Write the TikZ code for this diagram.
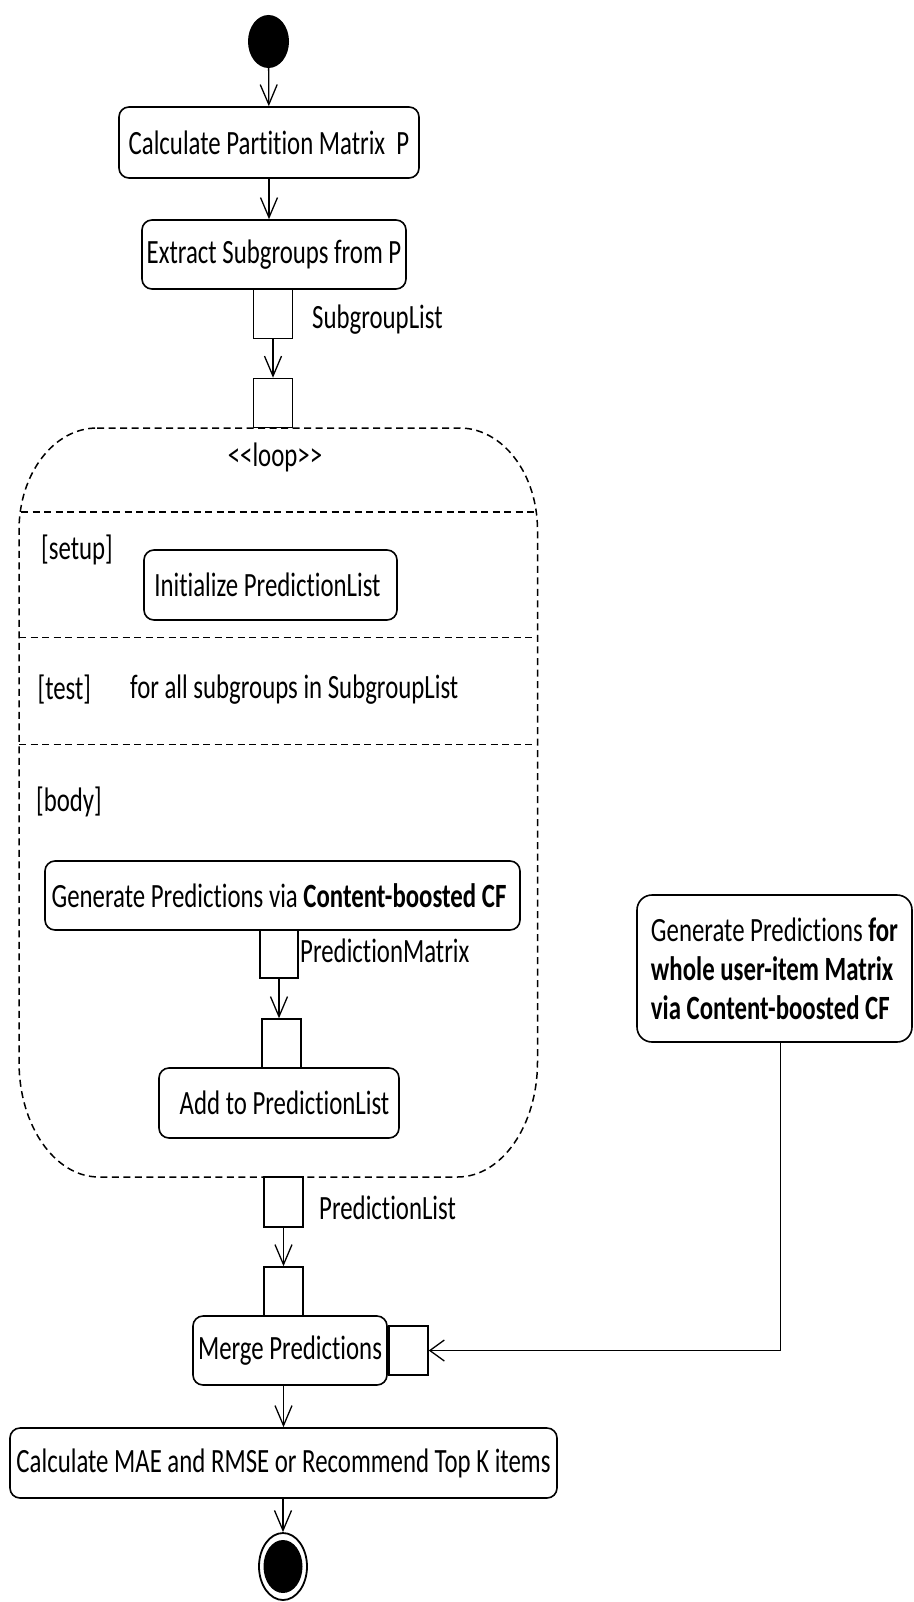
\documentclass[tikz,border=0pt]{standalone}
\usepackage{fontspec}
\setmainfont{Carlito}[FakeStretch=0.73, Ligatures={NoCommon}]
\usetikzlibrary{arrows.meta,shapes.geometric}
\begin{document}
\begin{tikzpicture}[x=1pt,y=-1pt,
  every node/.style={font=\fontsize{34}{39}\selectfont},
  action/.style={draw, line width=1.6pt, rounded corners=10pt, inner sep=0pt, align=center},
  objpin/.style={draw, line width=1.5pt, minimum width=39pt, minimum height=49pt, inner sep=0pt},
  lbl/.style={inner sep=0pt, anchor=west},
  arr/.style={line width=1.3pt, -{Straight Barb[length=20pt,width=17pt,line width=1.3pt]}},
  harr/.style={line width=1.3pt, -{Straight Barb[length=14.5pt,width=21pt,line width=1.3pt]}},
  loopline/.style={line width=1.5pt, dash pattern=on 7pt off 4.5pt}
]
\useasboundingbox (0,0) rectangle (913,1602);

% start
\node[ellipse, fill, minimum width=41pt, minimum height=53pt, inner sep=0pt] (start) at (268.5,41.5) {};

% actions
\node[action, minimum width=300pt, minimum height=71pt] (calc) at (269,142.5) {Calculate Partition Matrix~~P};
\node[action, minimum width=264pt, minimum height=69pt] (extract) at (274,254.5) {Extract Subgroups from P};
\node[objpin] (p1) at (273,314) {};
\node[lbl] (l1) at (312,320) {SubgroupList};
\node[objpin] (p2) at (273,403) {};

% loop region
\draw[loopline] (97,428) -- (459.5,428)
  .. controls (502.6,428) and (537.5,473.7) .. (537.5,530)
  -- (537.5,1062)
  .. controls (537.5,1125.5) and (501.7,1177) .. (457.5,1177)
  -- (99,1177)
  .. controls (54.8,1177) and (19,1125.5) .. (19,1062)
  -- (19,530)
  .. controls (19,473.7) and (53.9,428) .. (97,428) -- cycle;
\draw[loopline] (21,512) -- (535,512);
\draw[loopline] (19,637.5) -- (537.5,637.5);
\draw[loopline] (19,744.5) -- (537.5,744.5);

\node[inner sep=0pt] (looplbl) at (275,457) {<{}<loop>{}>};
\node[lbl] (setup) at (41,550) {[setup]};
\node[action, minimum width=253pt, minimum height=70pt] (init) at (270.5,585) {Initialize PredictionList\hspace*{6pt}};
\node[lbl] (test) at (37.5,690) {[test]};
\node[lbl] (cond) at (130,690) {for all subgroups in SubgroupList};
\node[lbl] (body) at (36,802) {[body]};

\node[action, minimum width=475pt, minimum height=69pt] (gen) at (282.5,895.5) {Generate Predictions via \textbf{Content-boosted CF}\hspace*{7pt}};
\node[objpin, minimum width=38pt, minimum height=48pt] (p3) at (279,954) {};
\node[lbl] (l3) at (300,951) {PredictionMatrix};
\node[objpin] (p4) at (281.5,1043.5) {};
\node[action, minimum width=240pt, minimum height=70pt] (add) at (279,1103) {\hspace*{11pt}Add to PredictionList};

% after loop
\node[objpin, minimum height=50pt] (p5) at (283.5,1202) {};
\node[lbl] (l5) at (319,1208) {PredictionList};
\node[objpin] (p6) at (283.5,1291.5) {};
\node[action, minimum width=194pt, minimum height=69pt] (merge) at (290,1350.5) {Merge Predictions};
\node[objpin] (p7) at (408.5,1350.5) {};

\node[action, rounded corners=15pt, minimum width=275pt, minimum height=147pt, align=left] (whole) at (774.5,968.5)
  {Generate Predictions \textbf{for}\\ \textbf{whole user-item Matrix}\\ \textbf{via Content-boosted CF}};

\node[action, minimum width=547pt, minimum height=70pt] (final) at (283.5,1463) {Calculate MAE and RMSE or Recommend Top K items};

% end
\node[ellipse, draw, line width=1.8pt, fill=white, minimum width=48pt, minimum height=67pt, inner sep=0pt] (stop) at (283,1566.5) {};
\fill (stop.center) ellipse [x radius=19.5pt, y radius=26.5pt];

% connectors
\draw[arr] (start) -- (calc);
\draw[arr] (calc) -- (calc |- extract.north);
\draw[arr] (p1) -- (p2);
\draw[arr] (p3.south) -- (p3.south |- p4.north);
\draw[arr] (p5) -- (p6);
\draw[arr] (merge.south -| p6) -- (final.north -| p6);
\draw[arr] (final.south -| stop) -- (stop);
\draw[harr] ([xshift=6pt]whole.south) |- (p7.east);
\end{tikzpicture}
\end{document}
